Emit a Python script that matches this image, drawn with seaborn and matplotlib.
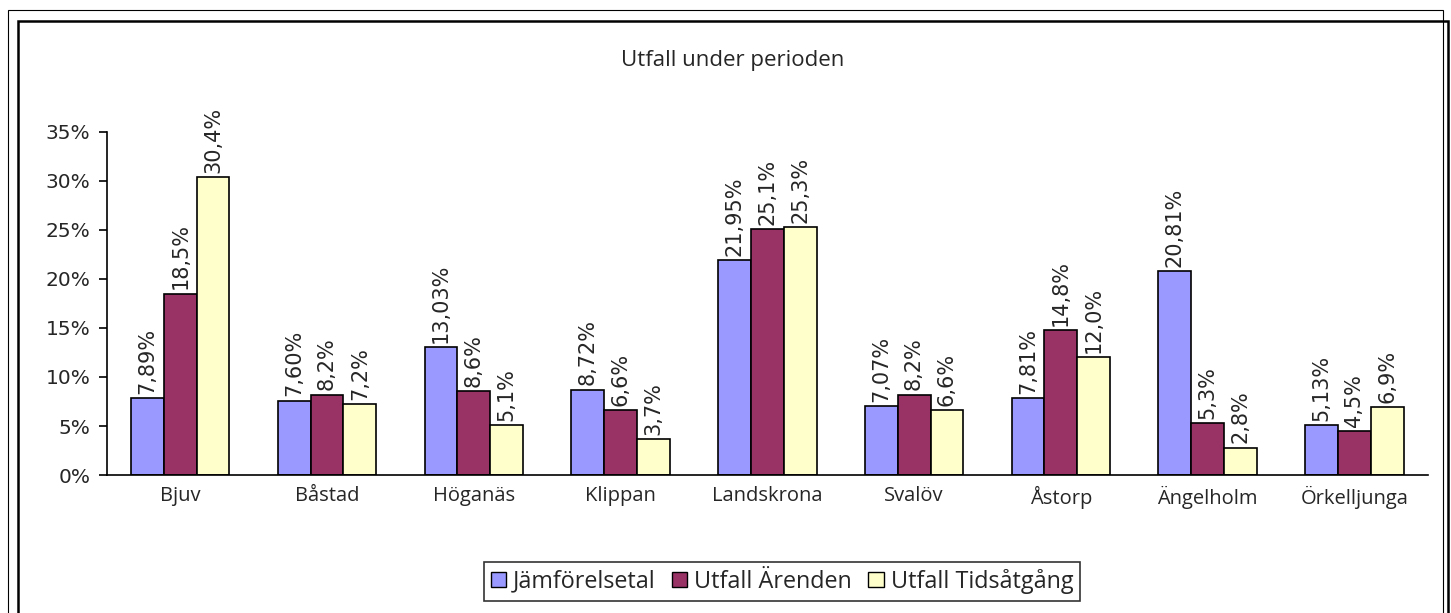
import numpy as np
import pandas as pd
import matplotlib
matplotlib.use('Agg')
import matplotlib.pyplot as plt
import seaborn as sns
from matplotlib.patches import Rectangle

# Data
kommuner = ['Bjuv', 'Båstad', 'Höganäs', 'Klippan', 'Landskrona', 'Svalöv',
            'Åstorp', 'Ängelholm', 'Örkelljunga']
jamforelsetal = [7.89, 7.60, 13.03, 8.72, 21.95, 7.07, 7.81, 20.81, 5.13]
utfall_arenden = [18.5, 8.2, 8.6, 6.6, 25.1, 8.2, 14.8, 5.3, 4.5]
utfall_tid = [30.4, 7.2, 5.1, 3.7, 25.3, 6.6, 12.0, 2.8, 6.9]
series = ['Jämförelsetal', 'Utfall Ärenden', 'Utfall Tidsåtgång']
decimals = [2, 1, 1]
colors = ['#9999FF', '#993366', '#FFFFCC']
yticks = [0, 5, 10, 15, 20, 25, 30, 35]

df = pd.DataFrame({
    'kommun': kommuner * 3,
    'serie': [s for s in series for _ in kommuner],
    'value': jamforelsetal + utfall_arenden + utfall_tid,
})

sns.set_style('white')
plt.rcParams['font.family'] = ['DejaVu Sans']
txt_font = ['Open Sans', 'DejaVu Sans']

fig = plt.figure(figsize=(14.51, 6.13), dpi=100)
ax = fig.add_axes([0.0737, 0.225, 0.9103, 0.56])

sns.barplot(data=df, x='kommun', y='value', hue='serie', palette=colors,
            order=kommuner, hue_order=series, width=0.67, saturation=1,
            edgecolor='black', linewidth=1.2, legend=True, ax=ax)

# rotated value labels with comma decimals
for cont, dec in zip(ax.containers, decimals):
    labels = [f'{b.get_height():.{dec}f}%'.replace('.', ',') for b in cont]
    ax.bar_label(cont, labels=labels, rotation=90, padding=3, fontsize=15)

ax.set_ylim(0, 35)
ax.set_xlim(-0.5, len(kommuner) - 0.5)
ax.set_yticks(yticks)
ax.set_yticklabels([f'{t}%' for t in yticks], fontsize=14.5)
ax.set_xticks(range(len(kommuner)))
ax.set_xticklabels(kommuner, fontsize=14.5, family=txt_font)
ax.set_xticks(np.arange(-0.5, len(kommuner), 1), minor=True)
ax.tick_params(axis='x', which='major', length=0, pad=8)
ax.tick_params(axis='x', which='minor', length=6, width=1.2, direction='out', color='black')
ax.tick_params(axis='y', length=6, width=1.2, direction='out', color='black', left=True, pad=6)
ax.set_xlabel('')
ax.set_ylabel('')
for side in ['top', 'right']:
    ax.spines[side].set_visible(False)
for side in ['left', 'bottom']:
    ax.spines[side].set_color('black')
    ax.spines[side].set_linewidth(1.2)

fig.text(0.505, 0.902, 'Utfall under perioden', ha='center', va='center',
         fontsize=16, family=txt_font)

ax.get_legend().remove()
handles = [Rectangle((0, 0), 1, 1, facecolor=c, edgecolor='black', linewidth=1) for c in colors]
fig.legend(handles, series, loc='center', bbox_to_anchor=(0.539, 0.052), ncol=3,
           frameon=True, fancybox=False, edgecolor='black', handlelength=0.65,
           handleheight=0.65, handletextpad=0.3, columnspacing=0.7, borderpad=0.3,
           prop={'family': txt_font, 'size': 16.8})
fig.legends[0].get_frame().set_linewidth(1.2)

# chart borders
fig.patches.append(Rectangle((8 / 1451, -0.1), 1435 / 1451, 1.1 - 10 / 613, transform=fig.transFigure,
                             fill=False, edgecolor='black', linewidth=0.8))
fig.patches.append(Rectangle((18 / 1451, -0.1), 1430 / 1451, 1.1 - 21 / 613, transform=fig.transFigure,
                             fill=False, edgecolor='black', linewidth=1.8))

fig.savefig('out.png', dpi=100)
